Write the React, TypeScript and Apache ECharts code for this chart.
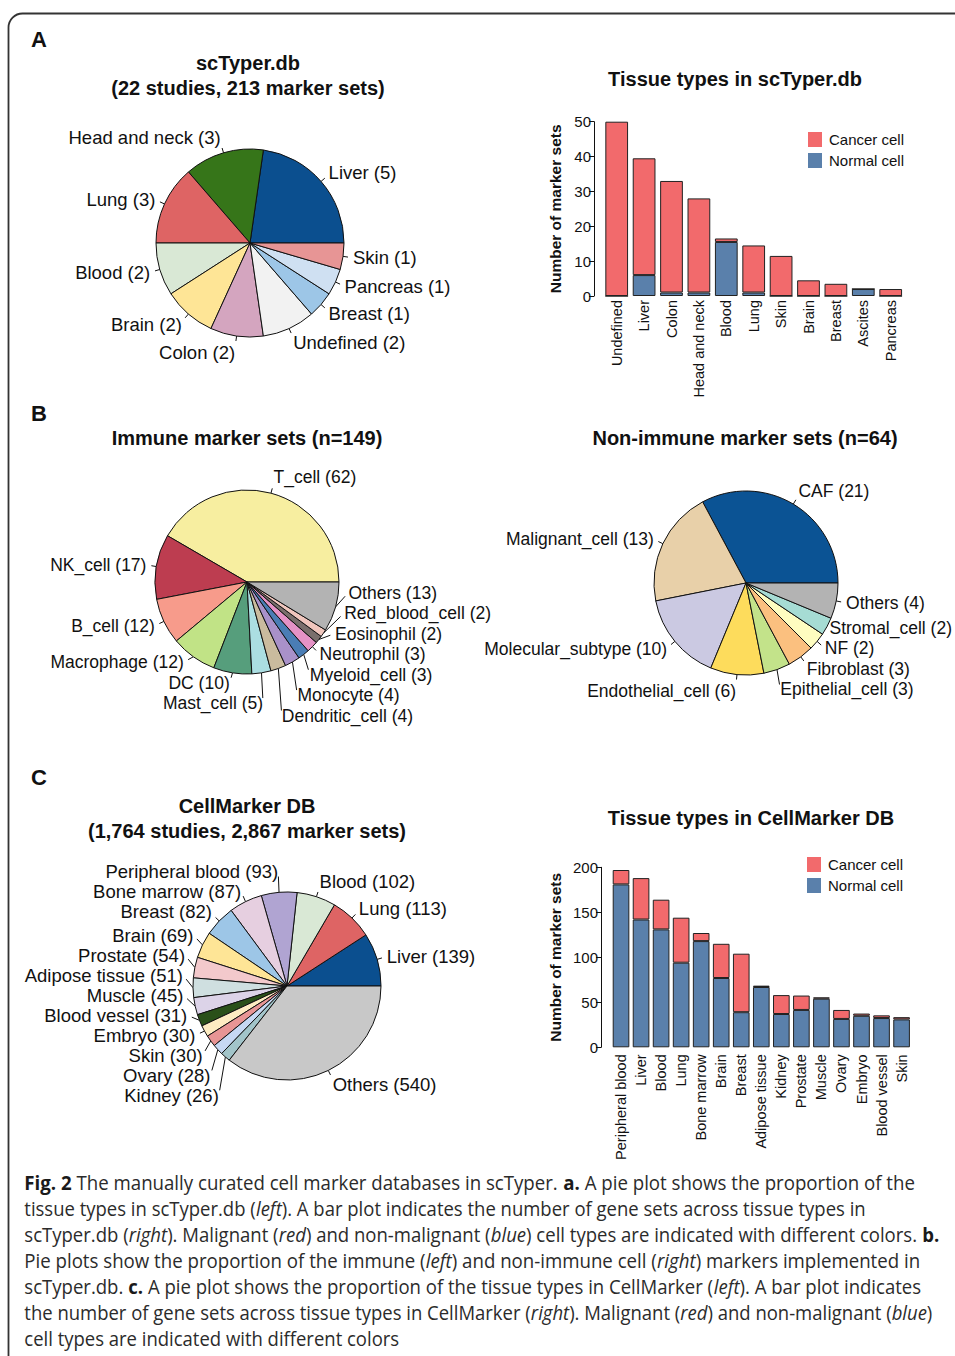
import React, { useEffect, useRef } from 'react';
import * as echarts from 'echarts';

const FONT = "'Liberation Sans', Arial, Helvetica, sans-serif";
const CAPTION_FONT = "'Open Sans', 'Noto Sans', sans-serif";
const RED = '#f26a6c';
const BLUE = '#5a80ab';
const INK = '#111111';
const PAGE_W = 955;

// ---- Panel A: scTyper.db tissues (studies) ----
const scTyperTissues = ['Liver', 'Head and neck', 'Lung', 'Blood', 'Brain', 'Colon', 'Undefined', 'Breast', 'Pancreas', 'Skin'];
const scTyperTissueCounts = [5, 3, 3, 2, 2, 2, 2, 1, 1, 1];
const scTyperTissueColors = ['#0b4f8f', '#367519', '#de6464', '#d9e8d5', '#fee596', '#d4a5bf', '#f2f2f2', '#9dc6e7', '#cfe0f2', '#e79595'];

const barACategories = ['Undefined', 'Liver', 'Colon', 'Head and neck', 'Blood', 'Lung', 'Skin', 'Brain', 'Breast', 'Ascites', 'Pancreas'];
const barANormal = [0, 6, 1, 1, 15.5, 1, 0, 0, 0, 2, 0];
const barACancer = [50, 33.5, 32, 27, 1, 13.5, 11.5, 4.5, 3.5, 0, 2];
const barATicks = [0, 50, 10];

// ---- Panel B ----
const immuneTypes = ['T_cell', 'NK_cell', 'B_cell', 'Macrophage', 'DC', 'Mast_cell', 'Dendritic_cell', 'Monocyte', 'Myeloid_cell', 'Neutrophil', 'Eosinophil', 'Red_blood_cell', 'Others'];
const immuneCounts = [62, 17, 12, 12, 10, 5, 4, 4, 3, 3, 2, 2, 13];
const immuneColors = ['#f7eea0', '#bd3d50', '#f79b8b', '#c1e386', '#569e7c', '#abdee2', '#cabb9e', '#a991c9', '#4a7db5', '#e592c6', '#7a6f6c', '#f0c6bd', '#b3b3b3'];

const nonImmuneTypes = ['CAF', 'Malignant_cell', 'Molecular_subtype', 'Endothelial_cell', 'Epithelial_cell', 'Fibroblast', 'NF', 'Stromal_cell', 'Others'];
const nonImmuneCounts = [21, 13, 10, 6, 3, 3, 2, 2, 4];
const nonImmuneColors = ['#0b5394', '#e8d0a9', '#cbc9e2', '#fddc5c', '#c3e38a', '#fbc07f', '#fefdc0', '#a6dcd4', '#b3b3b3'];

// ---- Panel C: CellMarker DB ----
const cellMarkerTissues = ['Liver', 'Lung', 'Blood', 'Peripheral blood', 'Bone marrow', 'Breast', 'Brain', 'Prostate', 'Adipose tissue', 'Muscle', 'Blood vessel', 'Embryo', 'Skin', 'Ovary', 'Kidney', 'Others'];
const cellMarkerCounts = [139, 113, 102, 93, 87, 82, 69, 54, 51, 45, 31, 30, 30, 28, 26, 540];
const cellMarkerColors = ['#0b4f8f', '#de6464', '#d9e8d5', '#b0a4d2', '#e6cfe0', '#9dc6e7', '#fee596', '#f3c9cc', '#cfdfe0', '#dcd3e8', '#2a5019', '#feecc2', '#e79595', '#c6d8f3', '#a2c4c9', '#c8c8c8'];

const barCCategories = ['Peripheral blood', 'Liver', 'Blood', 'Lung', 'Bone marrow', 'Brain', 'Breast', 'Adipose tissue', 'Kidney', 'Prostate', 'Muscle', 'Ovary', 'Embryo', 'Blood vessel', 'Skin'];
const barCNormal = [181, 142, 131, 94, 118, 77, 39, 67, 37, 41.5, 54, 31.5, 35, 32.5, 31];
const barCCancer = [16, 46, 33, 50, 9, 38, 65, 1.5, 21, 16, 1.5, 10, 2.5, 3, 2.5];
const barCTicks = [0, 200, 50];

const legendNames = ['Cancer cell', 'Normal cell'];

// ---- Caption ----
type Seg = [string, 'n' | 'b' | 'i'];
const captionLines: Seg[][] = [
  [['Fig. 2', 'b'], [' The manually curated cell marker databases in scTyper. ', 'n'], ['a.', 'b'], [' A pie plot shows the proportion of the', 'n']],
  [['tissue types in scTyper.db (', 'n'], ['left', 'i'], ['). A bar plot indicates the number of gene sets across tissue types in', 'n']],
  [['scTyper.db (', 'n'], ['right', 'i'], ['). Malignant (', 'n'], ['red', 'i'], [') and non-malignant (', 'n'], ['blue', 'i'], [') cell types are indicated with different colors. ', 'n'], ['b.', 'b']],
  [['Pie plots show the proportion of the immune (', 'n'], ['left', 'i'], [') and non-immune cell (', 'n'], ['right', 'i'], [') markers implemented in', 'n']],
  [['scTyper.db. ', 'n'], ['c.', 'b'], [' A pie plot shows the proportion of the tissue types in CellMarker (', 'n'], ['left', 'i'], ['). A bar plot indicates', 'n']],
  [['the number of gene sets across tissue types in CellMarker (', 'n'], ['right', 'i'], ['). Malignant (', 'n'], ['red', 'i'], [') and non-malignant (', 'n'], ['blue', 'i'], [')', 'n']],
  [['cell types are indicated with different colors', 'n']],
];
const captionLineWidths = [891, 842, 915, 896, 897, 908, 375];

let measureCtx: CanvasRenderingContext2D | null = null;
function measure(text: string, font: string) {
  if (!measureCtx) measureCtx = document.createElement('canvas').getContext('2d');
  measureCtx!.font = font;
  return measureCtx!.measureText(text).width;
}

// Label placement: radial anchor just outside the pie (like R's pie), then
// labels on each side are de-overlapped by centring clusters on their mean.
function pieLabelPositions(names: string[], values: number[], center: number[], r: number, spacing: number, fontSize: number) {
  const [cx, cy] = center;
  const total = values.reduce((a, b) => a + b, 0);
  const SIDE = 0.2;
  const R = r + 10;
  const split = (Math.acos(SIDE) * 180) / Math.PI;
  let acc = 0;
  const items = values.map((v, i) => {
    const a0 = (acc / total) * 360;
    acc += v;
    const a1 = (acc / total) * 360;
    const mid = (a0 + a1) / 2;
    const rad = (mid * Math.PI) / 180;
    const c = Math.cos(rad);
    const s = Math.sin(rad);
    const left = c < SIDE;
    const ty = cy - R * s - 7 * s * s * s;
    return {
      i,
      left,
      ex: cx + r * c,
      ey: cy - r * s,
      tx: cx + (r + 5) * c,
      tyy: cy - (r + 5) * s,
      x: cx + R * c,
      ty,
      y: ty,
      key: left ? (mid - split + 360) % 360 : (split - mid + 360) % 360,
    };
  });
  [true, false].forEach((side) => {
    const list = items.filter((it) => it.left === side).sort((a, b) => a.key - b.key);
    const clusters: { members: typeof list; top: number }[] = [];
    list.forEach((it) => {
      clusters.push({ members: [it], top: it.ty });
      while (clusters.length > 1) {
        const B = clusters[clusters.length - 1];
        const A = clusters[clusters.length - 2];
        if (B.top - (A.top + (A.members.length - 1) * spacing) >= spacing) break;
        const members = A.members.concat(B.members);
        const mean = members.reduce((sm, m) => sm + m.ty, 0) / members.length;
        clusters.splice(clusters.length - 2, 2, { members, top: mean - ((members.length - 1) * spacing) / 2 });
      }
    });
    clusters.forEach((cl) => cl.members.forEach((m, k) => { m.y = cl.top + k * spacing; }));
  });
  const font = `${fontSize}px ${FONT}`;
  return items.map((it) => {
    const moved = Math.abs(it.y - it.ty) > 1;
    let x = it.x;
    const dyNew = Math.abs(it.y - cy);
    if (moved && dyNew < Math.abs(it.ty - cy) && dyNew < R) {
      const circX = Math.sqrt(R * R - dyNew * dyNew);
      x = it.left ? Math.min(x, cx - circX) : Math.max(x, cx + circX);
    }
    if (!it.left) {
      const w = measure(`${names[it.i]} (${values[it.i]})`, font);
      x = Math.min(x, PAGE_W - 3 - w);
    }
    let pts: number[][];
    if (moved) {
      const dx = x - it.ex;
      const dy = it.y - it.ey;
      const len = Math.hypot(dx, dy) || 1;
      pts = [[it.ex, it.ey], [x - (5 * dx) / len, it.y - (5 * dy) / len]];
    } else {
      pts = [[it.ex, it.ey], [it.tx, it.tyy]];
    }
    return { x, y: it.y, align: it.left ? 'right' : 'left', verticalAlign: 'middle', labelLinePoints: pts };
  });
}

function pieSeries(names: string[], values: number[], colors: string[], center: number[], radius: number, fontSize: number, spacing: number) {
  const layout = pieLabelPositions(names, values, center, radius, spacing, fontSize);
  return {
    type: 'pie',
    left: 0,
    top: 0,
    width: 955,
    height: 1356,
    center,
    radius,
    startAngle: 0,
    clockwise: false,
    avoidLabelOverlap: false,
    minShowLabelAngle: 0,
    silent: true,
    data: names.map((n, i) => ({ name: n, value: values[i], itemStyle: { color: colors[i] } })),
    itemStyle: { borderColor: INK, borderWidth: 1 },
    label: {
      show: true,
      position: 'outside',
      formatter: '{b} ({c})',
      fontSize,
      fontFamily: FONT,
      color: INK,
      overflow: 'none',
    },
    labelLine: { show: true, length: 5, length2: 0, smooth: false, lineStyle: { color: INK, width: 1 } },
    labelLayout: (p: any) => layout[p.dataIndex],
    emphasis: { disabled: true },
  };
}

function txt(x: number, y: number, text: string, size: number, bold: boolean, align = 'center') {
  return {
    type: 'text',
    x,
    y,
    silent: true,
    style: {
      text,
      font: `${bold ? 'bold ' : ''}${size}px ${FONT}`,
      fill: INK,
      align,
      verticalAlign: 'middle',
      textAlign: align,
      textVerticalAlign: 'middle',
    },
  };
}

function captionFont(kind: string) {
  const style = kind === 'i' ? 'italic ' : '';
  const weight = kind === 'b' ? 'bold ' : '';
  return `${style}${weight}20px ${CAPTION_FONT}`;
}

function buildCaption() {
  const els: any[] = [];
  captionLines.forEach((line, li) => {
    const widths = line.map(([t, k]) => measure(t, captionFont(k)));
    const total = widths.reduce((a, b) => a + b, 0);
    const scale = captionLineWidths[li] / total;
    let cum = 0;
    line.forEach(([t, k], si) => {
      els.push({
        type: 'text',
        x: 24.3 + cum * scale,
        y: 1182 + li * 26,
        scaleX: scale,
        silent: true,
        style: {
          text: t,
          font: captionFont(k),
          fill: k === 'b' ? '#1a1a1a' : '#2b2b2b',
          align: 'left',
          verticalAlign: 'middle',
          textAlign: 'left',
          textVerticalAlign: 'middle',
        },
      });
      cum += widths[si];
    });
  });
  return els;
}

function valueAxis(gridIndex: number, ticks: number[], offset: number, nameGap: number) {
  return {
    type: 'value',
    gridIndex,
    min: ticks[0],
    max: ticks[1],
    interval: ticks[2],
    offset,
    axisLine: { show: true, lineStyle: { color: INK, width: 1 } },
    axisTick: { show: true, length: 5, lineStyle: { color: INK, width: 1 } },
    axisLabel: { fontSize: 15, color: INK, fontFamily: FONT, margin: 3 },
    splitLine: { show: false },
    name: 'Number of marker sets',
    nameLocation: 'middle',
    nameGap,
    nameTextStyle: { fontSize: 15.5, fontWeight: 'bold', fontFamily: FONT, color: INK },
  };
}

function catAxis(gridIndex: number, data: string[], margin: number) {
  return {
    type: 'category',
    gridIndex,
    data,
    axisLine: { show: false },
    axisTick: { show: false },
    axisLabel: { rotate: 90, fontSize: 14.5, margin, interval: 0, color: INK, fontFamily: FONT },
  };
}

function barSeries(name: string, data: number[], color: string, idx: number, stack: string) {
  return {
    type: 'bar',
    name,
    stack,
    xAxisIndex: idx,
    yAxisIndex: idx,
    data,
    barCategoryGap: '17%',
    silent: true,
    itemStyle: { color, borderColor: '#222', borderWidth: 1 },
    emphasis: { disabled: true },
  };
}

function legend(left: number, top: number) {
  return {
    data: legendNames,
    orient: 'vertical',
    left,
    top,
    padding: 0,
    itemWidth: 14,
    itemHeight: 15,
    itemGap: 6,
    icon: 'rect',
    selectedMode: false,
    itemStyle: { borderWidth: 0 },
    textStyle: { fontSize: 15, fontFamily: FONT, color: INK, padding: [0, 0, 0, 2] },
  };
}

export default function App() {
  const ref = useRef<HTMLDivElement>(null);
  useEffect(() => {
    if (!ref.current) return;
    const chart = echarts.init(ref.current, null, { renderer: 'svg' });
    const option: any = {
      animation: false,
      backgroundColor: '#ffffff',
      textStyle: { fontFamily: FONT },
      grid: [
        { left: 603, top: 121.7, width: 301.4, height: 174.3, outerBoundsMode: 'none', containLabel: false },
        { left: 611, top: 867.3, width: 300.6, height: 180, outerBoundsMode: 'none', containLabel: false },
      ],
      xAxis: [catAxis(0, barACategories, 4), catAxis(1, barCCategories, 7)],
      yAxis: [valueAxis(0, barATicks, 9, 31), valueAxis(1, barCTicks, 10, 38)],
      legend: [legend(808, 132), legend(807, 857)],
      series: [
        pieSeries(scTyperTissues, scTyperTissueCounts, scTyperTissueColors, [250, 243], 94, 18.5, 21),
        pieSeries(immuneTypes, immuneCounts, immuneColors, [247, 582], 92, 17.5, 20.5),
        pieSeries(nonImmuneTypes, nonImmuneCounts, nonImmuneColors, [746, 583], 92, 17.5, 20.5),
        pieSeries(cellMarkerTissues, cellMarkerCounts, cellMarkerColors, [287, 986], 94, 18.5, 20),
        barSeries('Normal cell', barANormal, BLUE, 0, 'A'),
        barSeries('Cancer cell', barACancer, RED, 0, 'A'),
        barSeries('Normal cell', barCNormal, BLUE, 1, 'C'),
        barSeries('Cancer cell', barCCancer, RED, 1, 'C'),
      ],
      graphic: [
        {
          type: 'rect',
          silent: true,
          z: -10,
          shape: { x: 8.5, y: 13.5, width: 1200, height: 1600, r: 14 },
          style: { fill: 'none', stroke: '#333333', lineWidth: 1.8 },
        },
        txt(31, 39, 'A', 22, true, 'left'),
        txt(248, 63, 'scTyper.db', 20, true),
        txt(248, 88, '(22 studies, 213 marker sets)', 20, true),
        txt(735, 79, 'Tissue types in scTyper.db', 20, true),
        txt(31, 413, 'B', 22, true, 'left'),
        txt(247, 438, 'Immune marker sets (n=149)', 20, true),
        txt(745, 438, 'Non-immune marker sets (n=64)', 20, true),
        txt(31, 777, 'C', 22, true, 'left'),
        txt(247, 806, 'CellMarker DB', 20, true),
        txt(247, 831, '(1,764 studies, 2,867 marker sets)', 20, true),
        txt(751, 818, 'Tissue types in CellMarker DB', 20, true),
        ...buildCaption(),
      ],
    };
    chart.setOption(option);
    return () => chart.dispose();
  }, []);
  return <div ref={ref} style={{ position: 'absolute', left: 0, top: 0, width: 955, height: 1356, background: '#fff' }} />;
}
